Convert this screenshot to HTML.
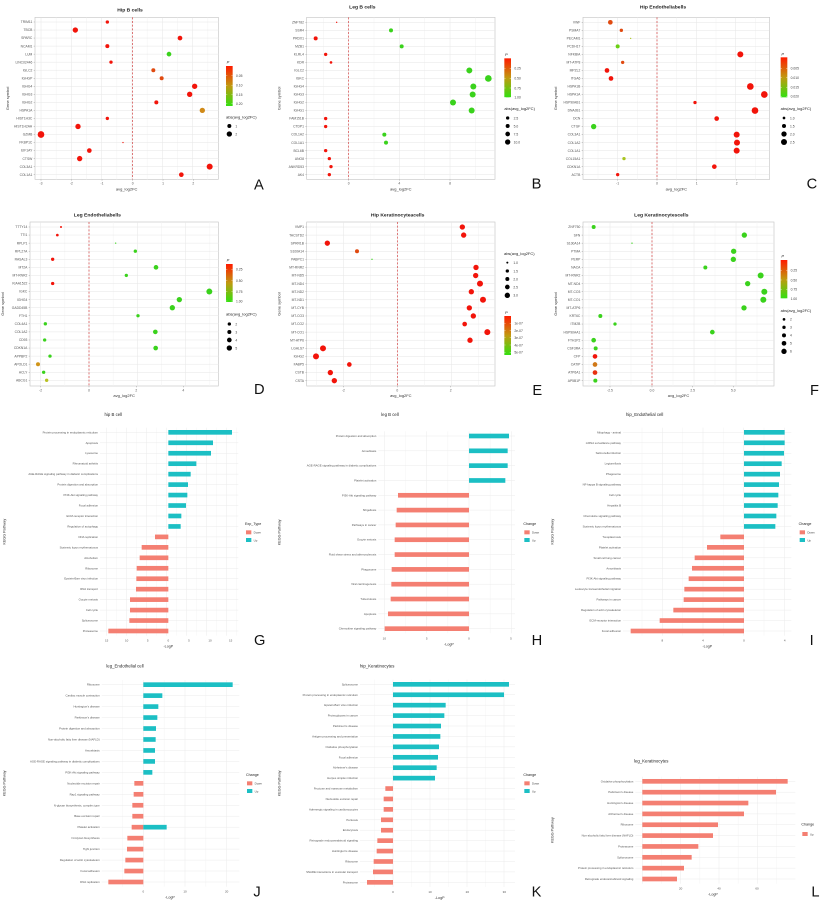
<!DOCTYPE html>
<html><head><meta charset="utf-8"><style>
body{margin:0;background:#fff}
svg{display:block;font-family:"Liberation Sans",sans-serif}
</style></head><body>
<svg id="s" width="823" height="902" xmlns="http://www.w3.org/2000/svg"></svg>
<script>
const R='#f2140a',G='#3ad21c';
let gid=0;
function esc(t){return t.replace(/&/g,'&amp;').replace(/</g,'&lt;')}
function cbar(x,y0,y1,labels,title,ty){
  const id='g'+(gid++);
  let s=`<defs><linearGradient id="${id}" x1="0" y1="0" x2="0" y2="1"><stop offset="0" stop-color="#ff1a00"/><stop offset="0.5" stop-color="#c09a10"/><stop offset="1" stop-color="#33e010"/></linearGradient></defs>`;
  s+=`<text x="${x+2}" y="${ty}" font-size="12" font-style="italic" fill="#222">P</text>`;
  s+=`<rect x="${x}" y="${y0}" width="20" height="${y1-y0}" fill="url(#${id})"/>`;
  labels.forEach(l=>{s+=`<line x1="${x}" x2="${x+4}" y1="${l[1]}" y2="${l[1]}" stroke="#fff"/><line x1="${x+16}" x2="${x+20}" y1="${l[1]}" y2="${l[1]}" stroke="#fff"/><text x="${x+30}" y="${l[1]+4}" font-size="10" fill="#444">${l[0]}</text>`});
  return s;
}
function sleg(x,ty,items){
  let s=`<text x="${x-10}" y="${ty}" font-size="12" fill="#222">abs(avg_log2FC)</text>`;
  items.forEach(i=>{s+=`<circle cx="${x}" cy="${i[1]}" r="${i[2]}" fill="#000"/><text x="${x+18}" y="${i[1]+4}" font-size="10" fill="#444">${i[0]}</text>`});
  return s;
}
function dot(c){
  let s=`<g transform="translate(${c.ox},${c.oy}) scale(0.33333)">`;
  s+=`<rect x="${c.px0}" y="${c.py0}" width="${c.px1-c.px0}" height="${c.py1-c.py0}" fill="#fff" stroke="#c8c8c8" stroke-width="2"/>`;
  const n=c.rows.length, st=(c.rb-c.rt)/(n-1);
  const tx=c.ticks.map(t=>t[0]); const d=tx[1]-tx[0];
  for(let x=tx[0]-d;x<c.px1;x+=d/2){ if(x>c.px0) s+=`<line x1="${x}" x2="${x}" y1="${c.py0}" y2="${c.py1}" stroke="${(Math.abs((x-tx[0])/d-Math.round((x-tx[0])/d))<0.01)?'#e6e6e6':'#f2f2f2'}" stroke-width="1.5"/>`;}
  c.rows.forEach((r,i)=>{const y=c.rt+i*st;
    s+=`<line x1="${c.px0}" x2="${c.px1}" y1="${y}" y2="${y}" stroke="#e6e6e6" stroke-width="1.5"/>`;
    s+=`<text x="${c.px0-8}" y="${y+3.5}" font-size="10" fill="#555" text-anchor="end">${r[0]}</text>`;
    s+=`<line x1="${c.px0-4}" x2="${c.px0}" y1="${y}" y2="${y}" stroke="#777"/>`;});
  s+=`<line x1="${c.zero}" x2="${c.zero}" y1="${c.py0}" y2="${c.py1}" stroke="#d23a3a" stroke-width="2" stroke-dasharray="6,5"/>`;
  c.rows.forEach((r,i)=>{const y=c.rt+i*st; s+=`<circle cx="${r[1]}" cy="${y}" r="${r[2]}" fill="${r[3]||R}"/>`;});
  c.ticks.forEach(t=>{s+=`<line x1="${t[0]}" x2="${t[0]}" y1="${c.py1}" y2="${c.py1+4}" stroke="#777"/><text x="${t[0]}" y="${c.py1+16}" font-size="10" fill="#555" text-anchor="middle">${t[1]}</text>`});
  s+=`<text x="${(c.px0+c.px1)/2}" y="${c.py1+33}" font-size="12" fill="#333" text-anchor="middle">avg_log2FC</text>`;
  s+=`<text transform="translate(${c.px0-78},${(c.py0+c.py1)/2}) rotate(-90)" font-size="12" fill="#333" text-anchor="middle">Gene symbol</text>`;
  s+=`<text x="${c.tx}" y="${c.ty}" font-size="15" font-weight="bold" fill="#222" text-anchor="middle">${c.title}</text>`;
  s+=c.leg;
  s+=`<text x="${c.lx}" y="${c.ly}" font-size="44" fill="#111">${c.letter}</text>`;
  return s+'</g>';
}
function bar(c){
  let s=`<g transform="translate(${c.ox},${c.oy}) scale(0.33333)">`;
  const n=c.rows.length, st=(c.rb-c.rt)/(n-1);
  const tx=c.ticks.map(t=>t[0]); const d=tx[1]-tx[0];
  for(let x=tx[0]-2*d;x<c.px1;x+=d/2){ if(x>c.px0) s+=`<line x1="${x}" x2="${x}" y1="${c.rt-14}" y2="${c.rb+14}" stroke="${(Math.abs((x-tx[0])/d-Math.round((x-tx[0])/d))<0.01)?'#ebebeb':'#f4f4f4'}" stroke-width="1.5"/>`;}
  c.rows.forEach((r,i)=>{const y=c.rt+i*st;
    s+=`<line x1="${c.px0}" x2="${c.px1}" y1="${y}" y2="${y}" stroke="#ebebeb" stroke-width="1.5"/>`;
    s+=`<text x="${c.px0-6}" y="${y+3}" font-size="8.5" fill="#555" text-anchor="end">${esc(r[0])}</text>`;});
  c.rows.forEach((r,i)=>{const y=c.rt+i*st;
    const col=r[2]||(r[1]>c.zero?'#1cbfc4':'#f47f72');
    const a=Math.min(r[1],c.zero),b=Math.max(r[1],c.zero);
    s+=`<rect x="${a}" y="${y-7}" width="${b-a}" height="14" fill="${col}"/>`;
    if(r[3]) s+=`<rect x="${c.zero}" y="${y-7}" width="${r[3]-c.zero}" height="14" fill="#1cbfc4"/>`;});
  c.ticks.forEach(t=>{s+=`<text x="${t[0]}" y="${c.rb+32}" font-size="9" fill="#555" text-anchor="middle">${t[1]}</text>`});
  s+=`<text x="${c.zero+(c.xlo||0)}" y="${c.rb+50}" font-size="11" fill="#333" text-anchor="middle">-LogP</text>`;
  s+=`<text transform="translate(16,${(c.rt+c.rb)/2}) rotate(-90)" font-size="11" fill="#333" text-anchor="middle">KEGG Pathway</text>`;
  s+=`<text x="${c.tx}" y="${c.ty}" font-size="13" fill="#222" text-anchor="${c.ta||'middle'}">${c.title}</text>`;
  s+=`<text x="${c.lgx}" y="${c.lgy}" font-size="11" fill="#222">${c.lgt||'Change'}</text>`;
  if(!c.onlyUp){
  s+=`<rect x="${c.lgx+3}" y="${c.lgy+16}" width="16" height="12" fill="#f47f72"/><text x="${c.lgx+26}" y="${c.lgy+26}" font-size="8.5" fill="#444">Down</text>`;
  s+=`<rect x="${c.lgx+3}" y="${c.lgy+39}" width="16" height="12" fill="#1cbfc4"/><text x="${c.lgx+26}" y="${c.lgy+49}" font-size="8.5" fill="#444">Up</text>`;
  } else {
  s+=`<rect x="${c.lgx+3}" y="${c.lgy+20}" width="16" height="12" fill="#f47f72"/><text x="${c.lgx+26}" y="${c.lgy+30}" font-size="8.5" fill="#444">Up</text>`;
  }
  s+=`<text x="${c.lx}" y="${c.ly}" font-size="44" fill="#111">${c.letter}</text>`;
  return s+'</g>';
}
const O='#e04a10',YG='#a8c420',GY='#6ad014';
let out='';
out+=dot({ox:0,oy:0,px0:105,px1:655,py0:52,py1:538,rt:66,rb:524,zero:398,title:'Hip B cells',tx:390,ty:34,letter:'A',lx:762,ly:568,
ticks:[[123,'-3'],[214,'-2'],[306,'-1'],[398,'0'],[489,'1'],[580,'2']],
rows:[['TRIM11',322,5],['TBCB',226,8],['SPARC',540,7],['NCAM1',322,6],['LUM',507,7,G],['LINC02446',333,5],['IGLC2',460,6,O],['IGHGP',485,6,O],['IGHG4',584,8],['IGHG3',569,8],['IGHG2',469,6],['HSPA1A',607,8,'#d08a18'],['HIST1H3C',322,5],['HIST1H2AH',234,8],['GZMB',123,10],['FKBP1C',369,2],['EIF1AY',268,7],['CTSW',239,8],['COL3A1',629,9],['COL1A1',544,7]],
leg:cbar(678,198,318,[['0.05',227],['0.10',256],['0.15',284],['0.20',311]],'',190)+sleg(688,356,[['1',378,6],['2',402,8]])});
out+=dot({ox:275,oy:0,px0:95,px1:660,py0:52,py1:538,rt:67,rb:524,zero:221,title:'Leg B cells',tx:262,ty:26,letter:'B',lx:770,ly:566,
ticks:[[221,'0'],[373,'4'],[525,'8']],
rows:[['ZNF782',185,2],['SSR4',348,6,G],['PRDX1',122,6],['MZB1',380,6,G],['KLRL4',152,5],['KDR',168,4],['IGLC2',583,9,G],['IGKC',640,10,G],['IGHG4',595,9,G],['IGHG3',593,9,G],['IGHG2',534,9,G],['IGHG1',590,9,G],['FAM151B',152,5],['CTDP1',152,5],['COL1A2',328,6,G],['COL1A1',333,6,G],['BCL6B',152,5],['ANO8',163,5],['ANKRD53',168,5],['AK4',163,5]],
leg:cbar(688,175,292,[['0.25',205],['0.50',235],['0.75',264],['1.00',292]],'',168)+sleg(698,330,[['2.5',354,5],['5.0',378,6],['7.5',402,7],['10.0',426,8]])});
out+=dot({ox:548,oy:0,px0:105,px1:665,py0:52,py1:538,rt:67,rb:524,zero:327,title:'Hip Endotheliabells',tx:345,ty:26,letter:'C',lx:776,ly:566,
ticks:[[209,'-1'],[327,'0'],[446,'1'],[566,'2']],
rows:[['VWF',187,7,O],['PSMA7',220,5,O],['PECAM1',248,2,YG],['PCDH17',209,6,GY],['NFKBIA',577,9],['MT-ATP8',224,5,O],['MPZL2',177,7],['ITGA6',189,7],['HSPA1B',607,10],['HSPA1A',649,10],['HSP90AB1',441,5],['DNAJB1',621,10],['DCN',506,7],['CTGF',137,8,G],['COL3A1',566,9],['COL1A2',567,9],['COL1A1',566,9],['COL15A1',228,5,YG],['CDKN1A',499,7],['ACTB',209,5]],
leg:cbar(698,172,292,[['0.005',205],['0.010',233],['0.015',262],['0.020',289]],'',166)+sleg(708,330,[['1.0',354,4],['1.5',378,6],['2.0',402,8],['2.5',426,9]])});
out+=dot({ox:0,oy:200,px0:90,px1:655,py0:66,py1:558,rt:81,rb:541,zero:267,title:'Leg Endotheliabells',tx:292,ty:50,letter:'D',lx:762,ly:582,
ticks:[[122,'-2'],[267,'0'],[409,'2'],[550,'4']],
rows:[['TTTY14',183,3],['TTI1',172,4],['RPLP1',347,2,G],['RPL27A',406,5,G],['RASAL3',158,5],['MT2A',468,7,G],['MT-RNR2',379,5,G],['KIAA1522',158,5],['IGKC',628,9,G],['IGHG4',538,8,G],['GADD45B',517,8,G],['FTH1',414,5,G],['COL4A1',136,5,G],['COL1A2',466,7,G],['CD93',134,5,G],['CDKN1A',467,7,G],['APPBP2',150,5,G],['APOLD1',114,6,'#d09418'],['ACLY',131,5,G],['ABCG1',140,5,'#b8c020']],
leg:cbar(678,192,306,[['0.25',208],['0.50',242],['0.75',275],['1.00',303]],'',184)+sleg(688,347,[['2',372,5],['3',396,6],['4',420,7],['5',444,8]])});
out+=dot({ox:275,oy:200,px0:95,px1:660,py0:66,py1:558,rt:81,rb:542,zero:367,title:'Hip Keratinocyteacells',tx:368,ty:50,letter:'E',lx:772,ly:585,
ticks:[[205,'-2'],[367,'0'],[527,'2']],
rows:[['VMP1',562,8],['TACSTD2',566,8],['SPRR1B',157,8],['S100A14',246,6,O],['PABPC1',291,2,G],['MT-RNR2',603,8],['MT-ND5',602,8],['MT-ND4',615,9],['MT-ND2',589,8],['MT-ND1',624,9],['MT-CYB',583,8],['MT-CO3',595,8],['MT-CO2',569,7],['MT-CO1',637,9],['MT-ATP6',585,8],['LGALS7',144,9],['IGHG2',123,9],['FABP5',223,7],['CSTB',166,8],['CSTA',178,8]],
leg:sleg(697,165,[['1.0',188,3],['1.5',213,5],['2.0',237,6],['2.5',261,7],['3.0',286,8]])+cbar(688,348,465,[['1e-07',370],['2e-07',392],['3e-07',413],['4e-07',435],['5e-07',457]],'',342)});
out+=dot({ox:548,oy:200,px0:105,px1:678,py0:66,py1:558,rt:81,rb:542,zero:312,title:'Leg Keratinocytescells',tx:340,ty:50,letter:'F',lx:786,ly:585,
ticks:[[186,'-2.5'],[312,'0.0'],[434,'2.5'],[556,'5.0']],
rows:[['ZNF750',137,6,G],['SFN',589,8,G],['S100A14',252,2,G],['PTMA',557,8,G],['PERP',556,8,G],['NACA',472,6,G],['MT-RNR2',638,9,G],['MT-ND4',599,8,G],['MT-CO3',649,9,G],['MT-CO1',646,9,G],['MT-ATP6',588,8,G],['KRT6C',157,6,G],['ITM2B',201,5,G],['HSP90AA1',493,7,G],['FTH1P2',137,7,G],['CSF3RA',143,6,G],['CFP',141,7],['CATIP',141,7,'#d07818'],['ATP6A1',141,7,'#e83010'],['AP5B1P',142,6,G]],
leg:cbar(698,180,295,[['0.25',211],['0.50',240],['0.75',268],['1.00',296]],'',172)+sleg(708,336,[['2',358,4],['3',382,5],['4',406,6],['5',430,7],['6',454,8]])});
out+=bar({ox:0,oy:400,px0:300,px1:715,rt:97,rb:693,zero:505,title:'hip B cell',tx:340,ty:48,letter:'G',lx:762,ly:735,lgx:735,lgy:375,lgt:'Exp_Type',
ticks:[[320,'15'],[380,'10'],[443,'5'],[505,'0'],[567,'5'],[630,'10'],[692,'15']],
rows:[['Protein processing in endoplasmic reticulum',696],['Apoptosis',639],['Lysosome',633],['Rheumatoid arthritis',589],['AGE-RAGE signaling pathway in diabetic complications',572],['Protein digestion and absorption',564],['PI3K-Akt signaling pathway',562],['Focal adhesion',558],['ECM-receptor interaction',544],['Regulation of autophagy',542],['DNA replication',465],['Systemic lupus erythematosus',425],['Alcoholism',419],['Ribosome',410],['Epstein-Barr virus infection',409],['RNA transport',408],['Oocyte meiosis',390],['Cell cycle',390],['Spliceosome',388],['Proteasome',325]]});
out+=bar({ox:275,oy:400,px0:310,px1:720,rt:108,rb:686,zero:582,title:'leg B cell',tx:345,ty:48,letter:'H',lx:770,ly:735,lgx:745,lgy:375,xlo:-60,
ticks:[[328,'10'],[455,'5'],[582,'0'],[708,'5']],
rows:[['Protein digestion and absorption',702],['Amoebiasis',698],['AGE-RAGE signaling pathway in diabetic complications',698],['Platelet activation',691],['PI3K-Akt signaling pathway',369],['Shigellosis',365],['Pathways in cancer',362],['Oocyte meiosis',359],['Fluid shear stress and atherosclerosis',359],['Phagosome',350],['Viral carcinogenesis',349],['Tuberculosis',347],['Apoptosis',339],['Chemokine signaling pathway',329]]});
out+=bar({ox:548,oy:400,px0:225,px1:730,rt:97,rb:693,zero:588,title:'hip_Endothelial cell',tx:290,ty:48,letter:'I',lx:785,ly:735,lgx:752,lgy:375,xlo:-110,
ticks:[[343,'8'],[465,'4'],[588,'0'],[710,'4']],
rows:[['Mitophagy - animal',710],['mRNA surveillance pathway',710],['Salmonella infection',708],['Legionellosis',701],['Phagosome',696],['NF-kappa B signaling pathway',693],['Cell cycle',691],['Hepatitis B',689],['Chemokine signaling pathway',685],['Systemic lupus erythematosus',682],['Toxoplasmosis',517],['Platelet activation',477],['Small cell lung cancer',440],['Amoebiasis',432],['PI3K-Akt signaling pathway',422],['Leukocyte transendothelial migration',409],['Pathways in cancer',407],['Regulation of actin cytoskeleton',376],['ECM-receptor interaction',335],['Focal adhesion',248]]});
out+=bar({ox:0,oy:640,px0:305,px1:718,rt:134,rb:726,zero:430,title:'leg_Endothelial cell',tx:375,ty:82,letter:'J',lx:760,ly:770,lgx:738,lgy:408,xlo:80,
ticks:[[430,'0'],[555,'10'],[680,'20']],
rows:[['Ribosome',698],['Cardiac muscle contraction',487],["Huntington's disease",475],["Parkinson's disease",472],['Protein digestion and absorption',468],['Non-alcoholic fatty liver disease (NAFLD)',467],['Amoebiasis',465],['AGE-RAGE signaling pathway in diabetic complications',465],['PI3K-Akt signaling pathway',457],['Nucleotide excision repair',403],['Rap1 signaling pathway',401],['N-glycan biosynthesis, complex type',397],['Base excision repair',397],['Platelet activation',395,null,500],['N-Glycan biosynthesis',382],['Tight junction',381],['Regulation of actin cytoskeleton',376],['Focal adhesion',373],['DNA replication',325]]});
out+=bar({ox:275,oy:650,px0:255,px1:720,rt:103,rb:697,zero:354,title:'hip_Keratinocytes',tx:255,ty:52,ta:'start',letter:'K',lx:770,ly:740,lgx:745,lgy:378,xlo:140,
ticks:[[354,'0'],[465,'10'],[577,'20'],[688,'30']],
rows:[['Spliceosome',702],['Protein processing in endoplasmic reticulum',687],['Epstein-Barr virus infection',512],['Proteoglycans in cancer',508],["Parkinson's disease",498],['Antigen processing and presentation',496],['Oxidative phosphorylation',492],['Focal adhesion',489],["Alzheimer's disease",485],['Herpes simplex infection',480],['Fructose and mannose metabolism',331],['Nucleotide excision repair',326],['Adrenergic signaling in cardiomyocytes',326],['Pertussis',318],['Endocytosis',318],['Retrograde endocannabinoid signaling',307],["Huntington's disease",305],['Ribosome',296],['SNARE interactions in vesicular transport',294],['Proteasome',276]]});
out+=bar({ox:548,oy:650,px0:262,px1:742,rt:394,rb:687,zero:283,title:'leg_Keratinocytes',tx:258,ty:337,ta:'start',letter:'L',lx:790,ly:740,lgx:760,lgy:526,onlyUp:true,xlo:212,
ticks:[[398,'20'],[513,'40'],[627,'60']],
rows:[['Oxidative phosphorylation',719,'#f47f72'],["Parkinson's disease",684,'#f47f72'],["Huntington's disease",601,'#f47f72'],["Alzheimer's disease",588,'#f47f72'],['Ribosome',510,'#f47f72'],['Non-alcoholic fatty liver disease (NAFLD)',495,'#f47f72'],['Proteasome',451,'#f47f72'],['Spliceosome',431,'#f47f72'],['Protein processing in endoplasmic reticulum',408,'#f47f72'],['Retrograde endocannabinoid signaling',387,'#f47f72']]});
document.getElementById('s').innerHTML=out;
</script>
</body></html>
